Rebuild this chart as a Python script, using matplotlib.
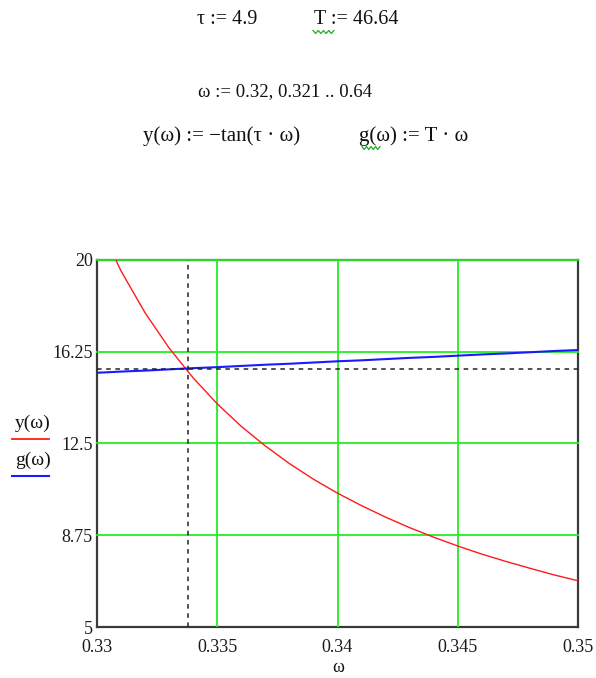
import numpy as np
import matplotlib
matplotlib.use('Agg')
import matplotlib.pyplot as plt
from matplotlib.lines import Line2D

plt.rcParams['font.family'] = ['Liberation Serif', 'DejaVu Serif']

# omega grid (step 0.001) inside the plotted window
omega = [0.330, 0.331, 0.332, 0.333, 0.334, 0.335, 0.336, 0.337, 0.338, 0.339, 0.340,
         0.341, 0.342, 0.343, 0.344, 0.345, 0.346, 0.347, 0.348, 0.349, 0.350]
# y(w) = -tan(tau*w)
y_vals = [21.63, 19.55, 17.84, 16.40, 15.18, 14.12, 13.20, 12.40, 11.68, 11.04, 10.47,
          9.96, 9.49, 9.06, 8.67, 8.31, 7.98, 7.68, 7.40, 7.13, 6.89]
# g(w) = T*w
g_vals = [15.39, 15.44, 15.48, 15.53, 15.58, 15.62, 15.67, 15.72, 15.76, 15.81, 15.86,
          15.90, 15.95, 16.00, 16.04, 16.09, 16.14, 16.18, 16.23, 16.28, 16.32]

x_ticks = [0.33, 0.335, 0.34, 0.345, 0.35]
x_labels = ['0.33', '0.335', '0.34', '0.345', '0.35']
y_ticks = [5, 8.75, 12.5, 16.25, 20]
y_labels = ['5', '8.75', '12.5', '16.25', '20']

# trace crosshair at the intersection
trace_w = 0.3338
trace_y = 15.55

W, H = 596, 678
fig = plt.figure(figsize=(W / 100, H / 100), dpi=100)
fs = 13

def px(x, y):
    return x / W, 1 - y / H

# worksheet definitions above the plot
fig.text(*px(197, 20), 'τ := 4.9', fontsize=14.5, va='center', ha='left', color='#111111')
fig.text(*px(314, 20), 'T := 46.64', fontsize=14.5, va='center', ha='left', color='#111111')
fig.text(*px(198, 92), 'ω := 0.32, 0.321 .. 0.64', fontsize=13.5, va='center', ha='left', color='#111111')
fig.text(*px(143, 136), 'y(ω) := −tan(τ · ω)', fontsize=15, va='center', ha='left', color='#111111')
fig.text(*px(359, 136), 'g(ω) := T · ω', fontsize=15, va='center', ha='left', color='#111111')

# green squiggles under T and g
for x0, x1, yy in [(313, 334, 32), (362, 380, 148)]:
    xs = np.linspace(x0, x1, 9)
    ys = [yy + (1.5 if k % 2 else -1.5) for k in range(len(xs))]
    fig.add_artist(Line2D([x / W for x in xs], [1 - v / H for v in ys],
                          color='#22aa22', lw=0.9, transform=fig.transFigure))

ax = fig.add_axes([97 / W, 1 - 627 / H, (578 - 97) / W, (627 - 260) / H])

grid_c = '#22ee22'
for xt in x_ticks[1:-1]:
    ax.axvline(xt, color=grid_c, lw=1.3, zorder=1)
for yt in y_ticks[1:]:
    ax.axhline(yt, color=grid_c, lw=1.3, zorder=1, clip_on=False)

ax.plot(omega, y_vals, color='#ff1a1a', lw=1.0, zorder=3)
ax.plot(omega, g_vals, color='#1a1aff', lw=1.5, zorder=3)

ax.axvline(trace_w, color='#222222', lw=1.1, ls=(0, (3, 3)), zorder=4)
ax.axhline(trace_y, color='#222222', lw=1.1, ls=(0, (3, 3)), zorder=4)

ax.set_xlim(0.33, 0.35)
ax.set_ylim(5, 20)
ax.set_xticks(x_ticks)
ax.set_xticklabels(x_labels)
ax.set_yticks(y_ticks)
ax.set_yticklabels(y_labels)
ax.tick_params(length=0, labelsize=fs, colors='#1a1a1a')
ax.tick_params(axis='x', pad=9)
ax.tick_params(axis='y', pad=3)
for s in ax.spines.values():
    s.set_color('#3a3a3a')
    s.set_linewidth(1.6)
    s.set_zorder(0.5)

# legend at left of the plot
fig.text(*px(33, 423), 'y(ω)', fontsize=14, ha='center', va='center', color='#111111')
fig.add_artist(Line2D([12 / W, 49 / W], [1 - 439 / H] * 2, color='#ff1a1a', lw=1.3,
                      transform=fig.transFigure))
fig.text(*px(33, 460), 'g(ω)', fontsize=14, ha='center', va='center', color='#111111')
fig.add_artist(Line2D([12 / W, 49 / W], [1 - 476 / H] * 2, color='#1a1aff', lw=1.5,
                      transform=fig.transFigure))

fig.text(*px(338, 668), 'ω', fontsize=fs, ha='center', va='center', color='#111111')

fig.savefig('out.png', dpi=100)
